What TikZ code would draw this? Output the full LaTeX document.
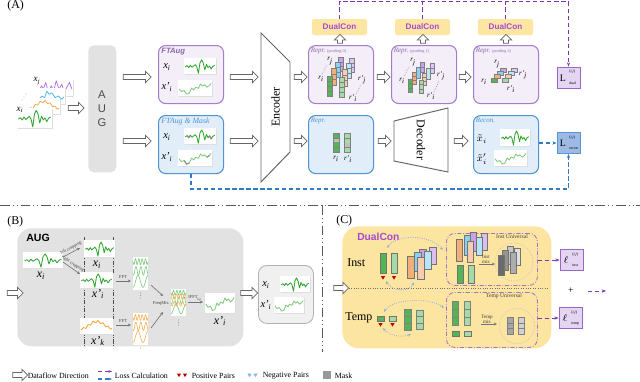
\documentclass[tikz,border=0pt]{standalone}
\usepackage{fontspec}
\setmainfont{Liberation Serif}
\newfontfamily\sansf{Liberation Sans}
\usetikzlibrary{shapes.arrows,arrows.meta,calc}
\newlength\pp
\setlength\pp{0.025cm}
\definecolor{pborder}{HTML}{A57DCB}
\definecolor{pfill}{HTML}{F4EEF9}
\definecolor{bborder}{HTML}{4F95D3}
\definecolor{bfill}{HTML}{E1EDF8}
\definecolor{auggray}{HTML}{E2E2E2}
\definecolor{dcyellow}{HTML}{FDE6A2}
\definecolor{dctext}{HTML}{A648D6}
\definecolor{cyel}{HTML}{FCE4A1}
\definecolor{gdark}{HTML}{2FA52F}
\definecolor{glight}{HTML}{7ECB7E}
\definecolor{orng}{HTML}{F5A33C}
\definecolor{lpurp}{HTML}{7A35B0}
\definecolor{lpur2}{HTML}{B36AE2}
\definecolor{lblue}{HTML}{2F7BC4}
\definecolor{sblue}{HTML}{3DB5EE}
\definecolor{cgreen}{HTML}{55B455}
\definecolor{cgreenl}{HTML}{A6DBA6}
\definecolor{corange}{HTML}{F4AE78}
\definecolor{cpeach}{HTML}{F8CDAF}
\definecolor{cblue}{HTML}{86D3F5}
\definecolor{cpurple}{HTML}{CBA2E8}
\definecolor{lossp}{HTML}{E4D5F2}
\definecolor{lossb}{HTML}{9DB9E4}
\definecolor{negc}{HTML}{8FB0DC}
\definecolor{posc}{HTML}{C00000}
\newcommand\fsz[1]{\fontsize{#1}{#1}\selectfont}
\newcommand\xs[2]{\textit{#1}\textsubscript{\textit{#2}}}
\newcommand\losslab[5]{%
  \node[inner sep=0pt,font=\fsz{7}] (#1L) at ({#2-5.5},{#3+0.5}) {#4};
  \node[inner sep=0pt,anchor=west,font=\fsz{2.8}] (#1S) at ({#2+0.5},{#3-5.5}) {(\textit{i},\textit{j})};
  \node[inner sep=0pt,anchor=west,font=\fsz{2.8}] (#1B) at ({#2+0.5},{#3+5.5}) {#5};}
\newcommand\chart[6]{%
  \begin{scope}[shift={(#1,#2)}]
    \fill[black!13] (1.3,1.3) rectangle ++(#3,#4);
    \fill[white] (0,0) rectangle ++(#3,#4);
    \begin{scope}[xscale=#3,yscale=#4]
      \draw[line width=0.6pt,line join=round,#5] #6;
    \end{scope}
  \end{scope}}
\newcommand\spec[5]{%
  \begin{scope}[shift={(#1,#2)}]
    \fill[white] (0,0) rectangle ++(#3,#4);
    \begin{scope}[xscale=#3,yscale=#4]
      \draw[#5,line width=0.45pt,domain=0:1,samples=60,smooth] plot (\x,{0.14+0.09*sin(\x*1620)});
      \draw[#5,line width=0.45pt,domain=0:1,samples=60,smooth] plot (\x,{0.42+0.13*sin(\x*1080+60)});
      \draw[#5,line width=0.45pt,domain=0:1,samples=60,smooth] plot (\x,{0.74+0.18*sin(\x*540+90)});
    \end{scope}
  \end{scope}}
\newcommand\cb[5]{\draw[black!55,line width=0.45pt,fill=#5] (#1,#2) rectangle ++(#3,#4);}
\newcommand\colbar[6]{%
  \fill[black!50] (#1,#2) rectangle ++(#3,#4);
  \pgfmathsetmacro\chh{(#4-(#5+1)*0.9)/#5}%
  \foreach \k in {1,...,#5}{\fill[#6] ({#1+0.9},{#2+0.9+(\k-1)*(\chh+0.9)}) rectangle ++({#3-1.8},\chh);}}
\newcommand\tri[3]{\fill[#3] ({#1-2.2},#2) -- ({#1+2.2},#2) -- (#1,{#2+3.6}) -- cycle;}
\newcommand\dt[2]{\fill[black!60] (#1,#2) circle (0.35pt);}
\def\dA{(.04,.55)--(.1,.48)--(.15,.6)--(.2,.45)--(.25,.58)--(.3,.5)--(.35,.42)--(.4,.55)--(.45,.95)--(.5,.3)--(.55,.12)--(.6,.3)--(.65,.75)--(.7,.4)--(.75,.6)--(.8,.5)--(.85,.68)--(.9,.52)--(.96,.45)}
\def\dB{(.03,.55)--(.1,.72)--(.18,.66)--(.25,.88)--(.33,.82)--(.4,.5)--(.46,.62)--(.52,.45)--(.6,.52)--(.66,.25)--(.72,.38)--(.78,.3)--(.85,.45)--(.92,.35)--(.97,.22)}
\def\dC{(.03,.75)--(.1,.6)--(.18,.65)--(.25,.4)--(.32,.45)--(.4,.2)--(.48,.3)--(.55,.15)--(.62,.35)--(.7,.3)--(.78,.55)--(.85,.5)--(.92,.7)--(.97,.65)}
\def\dD{(.03,.7)--(.1,.4)--(.15,.6)--(.22,.2)--(.3,.8)--(.38,.4)--(.45,.7)--(.52,.1)--(.6,.6)--(.68,.3)--(.75,.8)--(.82,.5)--(.9,.2)--(.97,.6)}
\def\dE{(.03,.8)--(.1,.7)--(.2,.75)--(.3,.5)--(.38,.6)--(.45,.2)--(.52,.4)--(.6,.3)--(.7,.6)--(.8,.5)--(.9,.7)--(.97,.55)}
\tikzset{
  flowarr/.style={single arrow,draw=black!60,fill=white,line width=0.5pt,single arrow head extend=2.3pt,single arrow head indent=0pt,inner sep=1.5pt,minimum height=#1,outer sep=0pt},
  pbox/.style={draw=pborder,fill=pfill,line width=0.75pt,rounded corners=5pt,minimum width=65\pp,minimum height=58\pp,anchor=north west,inner sep=0pt},
  bbox/.style={draw=bborder,fill=bfill,line width=0.75pt,rounded corners=5pt,minimum width=65\pp,minimum height=58\pp,anchor=north west,inner sep=0pt},
  dcbox/.style={fill=dcyellow,rounded corners=1.5pt,minimum width=55\pp,minimum height=16\pp,inner sep=0pt,text=dctext,font=\sansf\bfseries\fsz{5.8}},
  lossbox/.style={draw=lpurp!75,fill=lossp,line width=0.6pt,minimum width=23\pp,minimum height=21\pp,inner sep=0pt},
  dashp/.style={lpurp,densely dashed,line width=0.7pt},
  dashb/.style={lblue,densely dashed,line width=0.8pt},
  lbl/.style={inner sep=0pt,font=\fsz{7.5}},
  rl/.style={inner sep=0pt,font=\fsz{5}},
  tinyl/.style={inner sep=0pt,font=\fsz{3.2},text=black!75},
  sepline/.style={black!65,line width=0.6pt,dash pattern=on 7pt off 2pt on 0.8pt off 2pt on 0.8pt off 2pt},
  vsep/.style={black!70,line width=0.45pt,dash pattern=on 3pt off 1pt on 0.6pt off 1pt},
  arrsm/.style={black!55,line width=0.45pt,-{Stealth[length=2.2pt,width=2pt]}},
  negarc/.style={negc,densely dotted,line width=0.6pt,{Stealth[length=2.5pt]}-{Stealth[length=2.5pt]}},
  unibox/.style={draw=lpurp!70,line width=0.6pt,rounded corners=6pt,dash pattern=on 3pt off 1.2pt on 0.6pt off 1.2pt,anchor=north west,inner sep=0pt},
  paneltitle/.style={inner sep=0pt,anchor=west,font=\fsz{8.5}},
  boxlabel/.style={inner sep=0pt,anchor=north west,font=\fsz{5}\itshape},
}
\begin{document}
\begin{tikzpicture}[x=0.025cm,y=-0.025cm]
\useasboundingbox (0,0) rectangle (640,382);
\fill[white] (0,0) rectangle (640,382);

%================ (A) =================
\node[paneltitle] (tA) at (7,6) {(A)};

% input stack
\chart{38}{79}{35}{17}{lpur2,line width=0.5pt}{\dD}
\chart{32}{88}{33}{16}{sblue,line width=0.5pt}{\dE}
\chart{27}{98}{33}{16}{orng,line width=0.5pt}{\dC}
\chart{17}{108}{35}{20}{gdark,line width=0.6pt}{\dA}
\node[lbl,font=\fsz{6.5}] (xj) at (37,81) {\xs{x}{j}};
\node[lbl,font=\fsz{6.5}] (xi) at (20,110) {\xs{x}{i}};
\dt{22}{100}\dt{24}{97}\dt{26}{94}
\node[flowarr=16\pp] (a0) at (75,108) {};

% AUG
\node[fill=auggray,rounded corners=4pt,minimum width=28\pp,minimum height=127\pp,anchor=north west,inner sep=0pt] (aug) at (88,45) {};
\node[font=\sansf\fsz{8},text=black!70,inner sep=0pt] (augA) at (102,95) {A};
\node[font=\sansf\fsz{8},text=black!70,inner sep=0pt] (augU) at (102,109) {U};
\node[font=\sansf\fsz{8},text=black!70,inner sep=0pt] (augG) at (102,123) {G};
\node[flowarr=28\pp] (a1) at (136,77) {};
\node[flowarr=28\pp] (a2) at (136,141) {};

% FTAug
\node[pbox] (ft) at (158,45) {};
\node[boxlabel,font=\sansf\bfseries\itshape\fsz{5.5},text=pborder!85!black] (ftl) at (161,47.5) {FTAug};
\node[lbl] (ftx) at (167,67) {\xs{x}{i}};
\chart{184}{58}{32}{16}{gdark}{\dA}
\node[lbl] (ftxp) at (167,87) {\xs{x’}{i}};
\chart{178}{80}{34}{16}{glight}{\dB}

% FTAug & Mask
\node[bbox] (fm) at (158,115) {};
\node[boxlabel,font=\itshape\fsz{5.6},text=bborder] (fml) at (161,117.5) {FTAug \& Mask};
\node[lbl] (fmx) at (167,137) {\xs{x}{i}};
\chart{184}{128}{32}{16}{gdark}{\dA}
\begin{scope}[shift={(184,128)},xscale=32,yscale=16]
\draw[black!45,line width=0.8pt] (.1,.48)--(.15,.6)--(.2,.45);
\draw[black!45,line width=0.8pt] (.75,.6)--(.8,.5)--(.85,.68);
\end{scope}
\node[lbl] (fmxp) at (167,157) {\xs{x’}{i}};
\chart{178}{150}{34}{16}{glight}{\dB}
\begin{scope}[shift={(178,150)},xscale=34,yscale=16]
\draw[black!45,line width=0.8pt] (.18,.66)--(.25,.88)--(.33,.82);
\draw[black!45,line width=0.8pt] (.85,.45)--(.92,.35);
\end{scope}

\node[flowarr=28\pp] (a3) at (243,77) {};
\node[flowarr=28\pp] (a4) at (243,141) {};

% Encoder
\draw[black!60,line width=0.7pt,fill=white] (261,33) -- (290,62) -- (290,152) -- (261,182) -- cycle;
\node[rotate=90,font=\fsz{8.5},inner sep=0pt] (enc) at (275.5,107) {Encoder};
\node[flowarr=13\pp] (a5) at (299.5,77) {};
\node[flowarr=13\pp] (a6) at (299.5,141) {};

% pooling boxes
\node[pbox] (p0) at (308,45) {};
\node[boxlabel,text=pborder!85!black] (p0l) at (310.5,47.5) {Repr.\ {\upshape\fsz{3}(pooling 0)}};
\node[pbox] (p1) at (391,45) {};
\node[boxlabel,text=pborder!85!black] (p1l) at (393.5,47.5) {Repr.\ {\upshape\fsz{3}(pooling 1)}};
\node[pbox] (p2) at (473,45) {};
\node[boxlabel,text=pborder!85!black] (p2l) at (475.5,47.5) {Repr.\ {\upshape\fsz{3}(pooling 2)}};
\node[flowarr=13\pp] (a7) at (382.5,77) {};
\node[flowarr=12\pp] (a8) at (464,77) {};

% pooling 0 content
\colbar{338}{57}{6}{15}{3}{cpurple}\colbar{349}{58}{6}{15}{3}{cpurple!60}
\colbar{335}{62}{6}{16}{3}{cblue}\colbar{346}{63}{6}{16}{3}{cblue!55}
\colbar{331}{68}{6}{18}{3}{corange}\colbar{342}{69}{6}{18}{3}{cpeach}
\colbar{327}{76}{6}{21}{4}{cgreen}\colbar{339}{77}{6}{21}{4}{cgreenl}
\node[rl] (p0rj) at (330,61) {\xs{r}{j}};
\node[rl] (p0ri) at (321,79) {\xs{r}{i}};
\node[rl] (p0rjp) at (362,80) {\xs{r’}{j}};
\node[rl] (p0rip) at (353,98) {\xs{r’}{i}};
\draw[black!60,densely dotted] (322,74) -- (327,65);
\draw[black!60,densely dotted] (356,94) -- (361,85);

% pooling 1 content
\colbar{420}{62}{5}{11}{2}{cpurple}\colbar{430}{63}{5}{11}{2}{cpurple!60}
\colbar{416}{67}{5}{12}{2}{cblue}\colbar{426}{68}{5}{12}{2}{cblue!55}
\colbar{412}{72}{5}{13}{3}{corange}\colbar{422}{73}{5}{13}{3}{cpeach}
\colbar{408}{79}{5}{14}{3}{cgreen}\colbar{419}{80}{5}{14}{3}{cgreenl}
\node[rl] (p1rj) at (413,62) {\xs{r}{j}};
\node[rl] (p1ri) at (402,81) {\xs{r}{i}};
\node[rl] (p1rjp) at (441,76) {\xs{r’}{j}};
\node[rl] (p1rip) at (431,96) {\xs{r’}{i}};
\draw[black!60,densely dotted] (404,76) -- (409,67);
\draw[black!60,densely dotted] (434,92) -- (439,81);

% pooling 2 content
\colbar{500}{68}{7}{5}{1}{cpurple}\colbar{511}{68}{7}{5}{1}{cpurple!60}
\colbar{497}{71}{7}{5}{1}{cblue}\colbar{508}{71}{7}{5}{1}{cblue!55}
\colbar{494}{74}{7}{5}{1}{corange}\colbar{505}{74}{7}{5}{1}{cpeach}
\colbar{491}{78}{7}{5}{1}{cgreen}\colbar{502}{78}{7}{5}{1}{cgreenl}
\node[rl] (p2rj) at (497,64) {\xs{r}{j}};
\node[rl] (p2ri) at (484,82) {\xs{r}{i}};
\node[rl] (p2rjp) at (523,75) {\xs{r’}{j}};
\node[rl] (p2rip) at (511,89) {\xs{r’}{i}};

% DualCon
\node[dcbox] (dc0) at (339.5,27) {DualCon};
\node[dcbox] (dc1) at (422.5,27) {DualCon};
\node[dcbox] (dc2) at (505.5,27) {DualCon};
\node[flowarr=9\pp,rotate=90] (u0) at (340,40) {};
\node[flowarr=9\pp,rotate=90] (u1) at (423,40) {};
\node[flowarr=9\pp,rotate=90] (u2) at (506,40) {};

% loss dual
\node[lossbox] (ldual) at (568.5,77.5) {};
\losslab{ld}{568.5}{77.5}{L}{dual}
\coordinate (ctop) at (568.5,1.5);
\draw[dashp] (dc0.north) |- (ctop);
\draw[dashp] (dc1.north) -- (dc1.north |- ctop);
\draw[dashp] (dc2.north) -- (dc2.north |- ctop);
\draw[dashp,-{Stealth[length=3pt]}] (ctop) -- (ldual.north);

% lower row
\node[bbox] (rb) at (308,115) {};
\node[boxlabel,text=bborder] (rbl) at (310.5,117.5) {Repr.};
\colbar{333}{133}{7}{20}{4}{cgreen}\colbar{344}{133}{7}{20}{4}{cgreenl}
\fill[black!25] (333.9,138.6) rectangle (339.1,142.2);
\fill[black!25] (344.9,143.3) rectangle (350.1,146.9);
\node[rl] (rbri) at (336,159) {\xs{r}{i}};
\node[rl] (rbrip) at (348,159) {\xs{r’}{i}};
\node[flowarr=13\pp] (a9) at (383.5,141) {};

\draw[black!60,line width=0.7pt,fill=white] (394,121) -- (448,108) -- (448,172) -- (394,161) -- cycle;
\node[rotate=-90,font=\fsz{8.5},inner sep=0pt] (dec) at (421,140) {Decoder};
\node[flowarr=14\pp] (a10) at (460,141) {};

\node[bbox] (rc) at (473,115) {};
\node[boxlabel,text=bborder] (rcl) at (475.5,117.5) {Recon.};
\node[lbl] (rcx) at (482,139) {$\tilde{x}_i$};
\chart{500}{129}{30}{17}{gdark}{\dA}
\node[lbl] (rcxp) at (482,159) {$\tilde{x}'_i$};
\chart{494}{150}{33}{16}{glight}{\dB}

\node[lossbox,fill=lossb,draw=lblue!80] (lrec) at (568.5,143) {};
\losslab{lr}{568.5}{143}{L}{recon}
\draw[dashb,-{Stealth[length=3pt]}] (rc.east |- lrec.west) -- (lrec.west);
\coordinate (bcorner) at (568.5,189);
\draw[dashb,-{Stealth[length=3pt]}] (fm.south) |- (bcorner) -- (lrec.south);

% separators
\draw[sepline] (0,205) -- (640,205);
\draw[sepline] (322,205) -- (322,352);

%================ (B) =================
\node[fill=auggray,rounded corners=10pt,minimum width=226\pp,minimum height=118\pp,anchor=north west,inner sep=0pt] (baug) at (17,228) {};
\node[paneltitle] (tB) at (7,222) {(B)};
\node[inner sep=0pt,anchor=west,font=\sansf\bfseries\fsz{7.5}] (baugl) at (26,238) {AUG};
\node[flowarr=16\pp] (b0) at (14,293) {};

\chart{23}{252}{40}{16}{gdark}{\dA}
\node[lbl,font=\fsz{8.5}] (bxi) at (41,276) {\xs{x}{i}};
\draw[arrsm] (63,257) -- (80,248);
\draw[arrsm] (63,262) -- (80,274);
\node[tinyl,rotate=28] (lcrop) at (71,248) {left cropping};
\node[tinyl,rotate=-33] (rcrop) at (73,264) {right cropping};

\draw[vsep] (84,237) -- (84,346);
\draw[vsep] (113,237) -- (113,346);
\chart{84}{240}{31}{17}{gdark}{\dA}
\node[lbl,font=\fsz{8.5}] (bxi2) at (97,265) {\xs{x}{i}};
\chart{80}{272}{33}{16}{gdark}{\dA}
\node[lbl,font=\fsz{8.5}] (bxip) at (98,294) {\xs{x’}{i}};
\chart{80}{318}{33}{16}{orng}{\dC}
\node[lbl,font=\fsz{8.5}] (bxkp) at (98,341) {\xs{x’}{k}};

\draw[arrsm] (116,281) -- (131,281);
\node[tinyl] (fft1) at (123,277.5) {FFT};
\draw[arrsm] (116,325) -- (131,325);
\node[tinyl] (fft2) at (123,321.5) {FFT};
\spec{133}{257}{15}{33}{glight}
\dt{140.5}{293}\dt{140.5}{295.5}\dt{140.5}{298}
\spec{133}{313}{15}{32}{orng!85}
\dt{140.5}{348}
\draw[arrsm] (151,285) -- (163,296);
\draw[arrsm] (151,328) -- (163,312);
\node[tinyl] (fmix) at (161,303) {FreqMix};
\spec{171}{289}{15}{27}{glight}
\begin{scope}[shift={(171,289)},xscale=15,yscale=27]
\draw[orng!85,line width=0.45pt,domain=0:1,samples=60,smooth] plot (\x,{0.28+0.09*sin(\x*1440+90)});
\draw[orng!85,line width=0.45pt,domain=0:1,samples=60,smooth] plot (\x,{0.55+0.08*sin(\x*1260)});
\end{scope}
\dt{178.5}{320}\dt{178.5}{322.5}\dt{178.5}{325}
\draw[arrsm] (188,302) -- (203,302);
\node[tinyl] (ifft) at (195,298.5) {IFFT\textsubscript{hp}};
\chart{205}{293}{30}{20}{glight}{\dB}
\node[lbl,font=\fsz{8.5}] (bres) at (220,321) {\xs{x’}{i}};

\node[flowarr=17\pp] (b1) at (248,293) {};
\node[draw=black!30,fill=black!6,rounded corners=6pt,minimum width=55\pp,minimum height=58\pp,anchor=north west,line width=0.6pt,inner sep=0pt] (ob) at (258,265) {};
\node[lbl] (obx) at (266,285) {\xs{x}{i}};
\chart{280}{276}{30}{16}{gdark}{\dA}
\node[lbl] (obxp) at (266,305) {\xs{x’}{i}};
\chart{274}{297}{30}{16}{glight}{\dB}

%================ (C) =================
\node[fill=cyel,rounded corners=12pt,minimum width=209\pp,minimum height=122\pp,anchor=north west,inner sep=0pt] (cbox) at (342,226) {};
\node[paneltitle] (tC) at (336,221) {(C)};
\node[inner sep=0pt,anchor=west,font=\sansf\bfseries\fsz{7.3},text=dctext] (cdl) at (357,237) {DualCon};
\node[flowarr=15\pp] (c0) at (340,288) {};
\coordinate (cmid) at (548,288);
\draw[black!55,densely dotted,line width=0.7pt] (c0.east) -- (cmid);
\node[inner sep=0pt,anchor=west,font=\fsz{8.5}] (inst) at (347,263) {Inst};
\node[inner sep=0pt,anchor=west,font=\fsz{8.5}] (temp) at (345,318) {Temp};

% Inst
\cb{380}{253}{6}{20}{cgreen}\cb{391}{253}{6}{20}{cgreenl}
\tri{383}{276}{posc}\tri{394}{276}{posc}
\cb{419}{249}{7}{18}{cpurple}\cb{429}{247}{7}{17}{cpurple!70}
\cb{414}{252}{7}{19}{cblue}\cb{424}{251}{7}{18}{cblue!60}
\cb{407}{256}{7}{22}{corange}\cb{417}{257}{7}{22}{cpeach}
\draw[negarc] (387,248) .. controls (396,235) and (428,233) .. (443,250);
\draw[negarc] (386,281) .. controls (392,292) and (410,292) .. (414,282);

\node[unibox,minimum width=91\pp,minimum height=52\pp] (iu) at (446,233) {};
\cb{470}{232}{6}{19}{cpurple}\cb{481}{233}{6}{17}{cpurple!70}
\cb{464}{235}{6}{20}{cblue}\cb{476}{237}{6}{18}{cblue!60}
\cb{456}{239}{6}{22}{corange}\cb{467}{241}{6}{21}{cpeach}
\cb{457}{265}{6}{18}{cgreen}\cb{468}{265}{6}{18}{cgreenl}
\node[tinyl,align=center,font=\fsz{3.6}] (imix) at (486,259) {Inst\\mix};
\draw[arrsm] (479,264) -- (495,264);
\draw[black!25,densely dotted,line width=0.5pt] (514,262) circle (13.5pt);
\cb{507}{246}{6}{18}{black!22}\cb{514}{248}{6}{17}{black!12}
\cb{502}{250}{6}{20}{black!42}\cb{510}{252}{6}{21}{black!32}
\cb{498}{255}{6}{20}{black!58}
\node[tinyl,font=\fsz{4}] (iul) at (512,237) {Inst Universal};

% Temp
\cb{377}{316}{7}{5}{cgreen}\cb{389}{316}{7}{5}{cgreenl}
\tri{380.5}{323}{posc}\tri{392.5}{323}{posc}
\colbar{404}{309}{8}{22}{3}{cgreen}\colbar{416}{310}{8}{20}{3}{cgreenl}
\draw[negarc] (384,312) .. controls (392,299) and (430,297) .. (444,308);
\draw[negarc] (383,328) .. controls (390,337) and (405,337) .. (411,334);

\node[unibox,minimum width=91\pp,minimum height=55\pp] (tu) at (446,292) {};
\colbar{452}{301}{7}{25}{3}{cgreen}\colbar{464}{301}{7}{25}{3}{cgreenl}
\cb{452}{331}{7}{5}{cgreen}\cb{464}{331}{7}{5}{cgreenl}
\node[tinyl,align=center,font=\fsz{3.6}] (tmix) at (487,319) {Temp\\mix};
\draw[arrsm] (481,324) -- (497,324);
\draw[black!25,densely dotted,line width=0.5pt] (517,326) circle (12.5pt);
\colbar{507}{317}{7}{18}{3}{black!35}\colbar{518}{317}{7}{18}{3}{black!18}
\node[tinyl,font=\fsz{4}] (tul) at (504,296) {Temp Universal};

% C losses
\node[lossbox] (linst) at (571.5,260) {};
\losslab{li}{571.5}{260}{$\ell$}{inst}
\node[lossbox] (ltemp) at (570.5,318) {};
\losslab{lt}{570.5}{318}{$\ell$}{temp}
\draw[dashp,-{Stealth[length=3pt]}] (iu.east |- linst.west) -- (linst.west);
\draw[dashp,-{Stealth[length=3pt]}] (tu.east |- ltemp.west) -- (ltemp.west);
\node[inner sep=0pt,font=\fsz{7}] (plus) at (571,291) {+};
\coordinate (pa) at (588,291);
\coordinate (pb) at (606,291);
\draw[dashp,-{Stealth[length=3pt]}] (pa) -- (pb);

%================ Legend =================
\node[flowarr=15\pp] (lg1) at (19,375) {};
\node[inner sep=0pt,anchor=west,font=\fsz{5.6}] (lg1t) at (27.5,375.5) {Dataflow Direction};
\coordinate (lp1) at (98,371.5);\coordinate (lp2) at (112,371.5);
\draw[dashp,-{Stealth[length=2.5pt]}] (lp1) -- (lp2);
\coordinate (lb1) at (98,379);\coordinate (lb2) at (112,379);
\draw[dashb,-{Stealth[length=2.5pt]}] (lb1) -- (lb2);
\node[inner sep=0pt,anchor=west,font=\fsz{5.6}] (lg2t) at (114.5,375.5) {Loss Calculation};
\tri{179}{373.5}{posc}\tri{185}{373.5}{posc}
\node[inner sep=0pt,anchor=west,font=\fsz{5.6}] (lg3t) at (191.5,375.5) {Positive Pairs};
\tri{249.5}{373.5}{negc}\tri{255.5}{373.5}{negc}
\node[inner sep=0pt,anchor=west,font=\fsz{5.6}] (lg4t) at (262.5,375.5) {Negative Pairs};
\node[fill=black!40,minimum size=8\pp,inner sep=0pt] (lgm) at (326.5,375) {};
\node[inner sep=0pt,anchor=west,font=\fsz{5.6}] (lg5t) at (334.5,375.5) {Mask};
\end{tikzpicture}
\end{document}
